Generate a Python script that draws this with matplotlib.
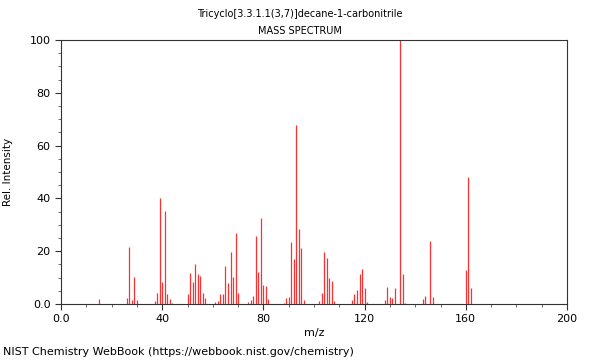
#!/usr/bin/env python3
"""Mass spectrum stick plot, NIST WebBook style."""
import matplotlib
matplotlib.use('Agg')
import matplotlib.pyplot as plt
from matplotlib.ticker import MultipleLocator

# peak list (m/z, relative intensity)
mz = [15, 26, 27, 28, 29, 30, 37, 38, 39, 40, 41, 42, 43, 44,
      50, 51, 52, 53, 54, 55, 56, 57, 61, 62, 63, 64, 65, 66, 67, 68, 69, 70,
      74, 75, 76, 77, 78, 79, 80, 81, 82, 88, 89, 90, 91, 92, 93, 94, 95, 96,
      102, 103, 104, 105, 106, 107, 108, 115, 116, 117, 118, 119, 120, 121,
      128, 129, 130, 131, 132, 134, 135, 136, 143, 144, 146, 147,
      160, 161, 162]
intensity = [1.8, 2.4, 21.5, 1.5, 10.2, 1.4, 1.1, 4.0, 40.3, 8.5, 35.2, 3.8, 2.0, 0.4,
             3.8, 11.9, 8.3, 15.1, 11.2, 10.7, 4.3, 2.3, 0.6, 1.1, 3.8, 3.7, 14.3, 7.9,
             19.6, 10.2, 26.9, 4.0,
             0.8, 1.5, 3.0, 25.9, 12.2, 32.6, 7.1, 6.7, 2.0, 0.5, 2.3, 2.5, 23.4, 17.0,
             67.8, 28.4, 21.1, 1.5,
             1.2, 4.2, 19.7, 17.4, 9.8, 8.8, 1.2, 1.5, 3.8, 5.2, 11.2, 13.4, 6.1, 0.8,
             1.5, 6.4, 2.8, 2.3, 6.1, 100.0, 11.5, 0.5, 1.9, 3.2, 23.7, 2.7,
             12.9, 48.1, 6.1]

x_ticks = [0, 40, 80, 120, 160, 200]
x_labels = ['0.0', '40', '80', '120', '160', '200']
y_ticks = [0, 20, 40, 60, 80, 100]
y_labels = ['0.0', '20', '40', '60', '80', '100']

fig = plt.figure(figsize=(6, 3.6), dpi=100)
ax = fig.add_axes([0.1017, 0.1556, 0.8433, 0.7333])

ax.vlines(mz, 0, intensity, colors='#ff3030', linewidth=0.9)

ax.set_xlim(0, 200)
ax.set_ylim(0, 100)
ax.set_xticks(x_ticks)
ax.set_xticklabels(x_labels)
ax.set_yticks(y_ticks)
ax.set_yticklabels(y_labels)
ax.xaxis.set_minor_locator(MultipleLocator(10))
ax.yaxis.set_minor_locator(MultipleLocator(5))
ax.tick_params(labelsize=8, length=4, color='#333333')
ax.tick_params(which='minor', length=2, color='#555555')
for sp in ax.spines.values():
    sp.set_linewidth(0.8)
    sp.set_color('#333333')

ax.set_xlabel('m/z', fontsize=8)
ax.xaxis.set_label_coords(0.5, -0.09)
ax.set_ylabel('Rel. Intensity', fontsize=7.5)
ax.yaxis.set_label_coords(-0.095, 0.5)

fig.text(0.5, 0.962, 'Tricyclo[3.3.1.1(3,7)]decane-1-carbonitrile',
         ha='center', va='center', fontsize=7)
fig.text(0.5, 0.915, 'MASS SPECTRUM', ha='center', va='center', fontsize=7)
fig.text(0.005, 0.022, 'NIST Chemistry WebBook (https://webbook.nist.gov/chemistry)',
         ha='left', va='center', fontsize=8)

plt.savefig('out.png', dpi=100)
plt.close()
